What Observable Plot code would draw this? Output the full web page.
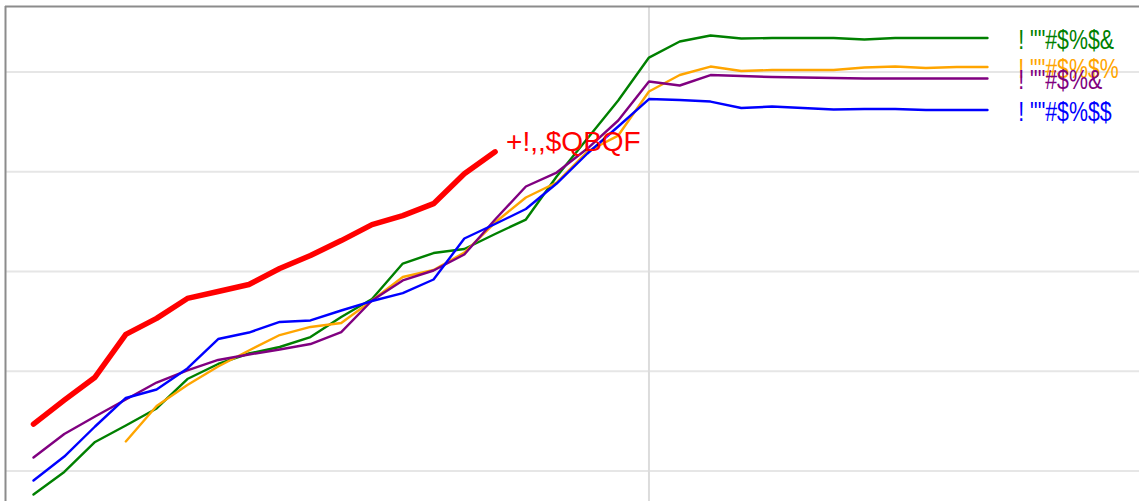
<!DOCTYPE html>
<html>
<head>
<meta charset="utf-8">
<script src="https://cdn.jsdelivr.net/npm/d3@7"></script>
<script src="https://cdn.jsdelivr.net/npm/@observablehq/plot@0.6"></script>
<style>
  html, body { margin: 0; padding: 0; background: #fff; }
  #chart svg { display: block; }
</style>
</head>
<body>
<div id="chart"></div>
<script>
// Series values (index along x, value along y; gridlines every 10 units)
const redValues = [4.7, 7.1, 9.4, 13.7, 15.3, 17.3, 18.0, 18.7, 20.3, 21.6, 23.1, 24.7, 25.6, 26.8, 29.8, 32.0];
const greenValues = [-2.36, -0.10, 2.91, 4.56, 6.27, 9.22, 10.73, 11.78, 12.43, 13.43, 15.44, 17.24, 20.80, 21.85, 22.26, 23.76, 25.21, 29.52, 33.33, 37.14, 41.45, 43.06, 43.66, 43.36, 43.41, 43.41, 43.41, 43.26, 43.41, 43.41, 43.41, 43.41];
const blueValues = [-0.95, 1.45, 4.46, 7.32, 8.17, 10.28, 13.23, 13.88, 14.94, 15.09, 16.09, 17.04, 17.84, 19.20, 23.31, 24.76, 26.27, 28.82, 31.83, 34.54, 37.29, 37.19, 37.04, 36.39, 36.54, 36.39, 36.24, 36.29, 36.29, 36.19, 36.19, 36.19];
const purpleValues = [1.35, 3.71, 5.46, 7.17, 8.87, 10.08, 11.13, 11.68, 12.18, 12.73, 13.93, 17.09, 19.10, 20.10, 21.70, 25.21, 28.52, 29.92, 32.33, 35.14, 39.05, 38.65, 39.70, 39.60, 39.50, 39.45, 39.40, 39.35, 39.35, 39.35, 39.35, 39.35];
const orangeStart = 3;
const orangeValues = [2.96, 6.52, 8.62, 10.48, 12.08, 13.63, 14.44, 14.84, 17.09, 19.45, 20.15, 21.90, 24.91, 27.42, 28.92, 32.03, 33.63, 38.05, 39.70, 40.55, 40.10, 40.20, 40.20, 40.20, 40.45, 40.55, 40.40, 40.50, 40.50];

const seriesNames = {
  red: "+!,,$QBQF",
  green: '! ""#$%$&',
  orange: '! ""#$%$%',
  purple: '! ""#$%&',
  blue: '! ""#$%$$'
};
const gridValues = [0, 10, 20, 30, 40];
const markerIndex = 20;

const toRows = (vals, start = 0) => vals.map((v, i) => ({x: start + i, y: v}));
const red = toRows(redValues);
const green = toRows(greenValues);
const blue = toRows(blueValues);
const purple = toRows(purpleValues);
const orange = toRows(orangeValues, orangeStart);

const xDomain = [-0.91, 35.94];
const yDomain = [-3.06, 46.57];

const endLabels = [
  {series: "green", color: "green", last: green[green.length - 1]},
  {series: "orange", color: "orange", last: orange[orange.length - 1]},
  {series: "purple", color: "purple", last: purple[purple.length - 1]},
  {series: "blue", color: "blue", last: blue[blue.length - 1]}
].map(d => ({x: d.last.x + 1, y: d.last.y, text: seriesNames[d.series], color: d.color}));
const redLabel = [{x: red[red.length - 1].x, y: red[red.length - 1].y, text: seriesNames.red}];

const chart = Plot.plot({
  width: 1139,
  height: 501,
  marginLeft: 5,
  marginRight: 0,
  marginTop: 6,
  marginBottom: 0,
  x: {domain: xDomain, axis: null},
  y: {domain: yDomain, axis: null},
  marks: [
    Plot.ruleY(gridValues, {stroke: "#e6e6e6", strokeWidth: 2}),
    Plot.ruleX([markerIndex], {stroke: "#dcdcdc", strokeWidth: 2}),
    Plot.ruleX([xDomain[0]], {stroke: "#8c8c8c", strokeWidth: 2}),
    Plot.ruleY([yDomain[1]], {stroke: "#8c8c8c", strokeWidth: 2}),
    Plot.line(green, {x: "x", y: "y", stroke: "green", strokeWidth: 2.4}),
    Plot.line(orange, {x: "x", y: "y", stroke: "orange", strokeWidth: 2.4}),
    Plot.line(purple, {x: "x", y: "y", stroke: "purple", strokeWidth: 2.4}),
    Plot.line(blue, {x: "x", y: "y", stroke: "blue", strokeWidth: 2.4}),
    Plot.line(red, {x: "x", y: "y", stroke: "red", strokeWidth: 5.5}),
    Plot.text(endLabels, {x: "x", y: "y", text: "text", fill: "color", textAnchor: "start", fontSize: 27, fontFamily: "'Liberation Sans Narrow', 'Liberation Sans', sans-serif", dy: 2, className: "endlabel"}),
    Plot.text(redLabel, {x: "x", y: "y", text: "text", fill: "red", textAnchor: "start", fontSize: 28, fontFamily: "'Liberation Sans', Arial, sans-serif", dx: 11, dy: -10})
  ]
});
document.getElementById("chart").appendChild(chart);

// Narrow the end labels horizontally (condensed look, as in the reference)
d3.select(chart).selectAll(".endlabel text").each(function() {
  const len = this.getComputedTextLength();
  this.setAttribute("textLength", (len * 0.79).toFixed(1));
  this.setAttribute("lengthAdjust", "spacingAndGlyphs");
});
</script>
</body>
</html>
